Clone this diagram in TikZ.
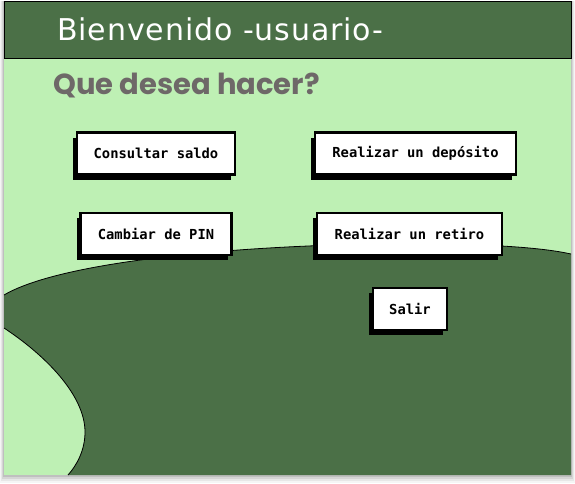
\documentclass[tikz,border=0pt]{standalone}
\usepackage{fontspec}
\usetikzlibrary{shadows,positioning}
\newfontfamily\titlefont{DejaVu Sans}[LetterSpace=3]
\newfontfamily\quefont{Poppins}
\newfontfamily\monofont{DejaVu Sans Mono}
\definecolor{verdeosc}{RGB}{75,112,71}
\definecolor{verdecla}{RGB}{190,240,180}
\definecolor{grisque}{RGB}{110,104,104}

\begin{document}
\begin{tikzpicture}[x=1pt,y=-1pt,
    boton/.style={rectangle,draw=black,line width=2.5pt,fill=white,
		minimum height=42pt,inner sep=0pt,font=\monofont\bfseries\fontsize{13.8}{16}\selectfont,
		drop shadow={shadow xshift=-4pt,shadow yshift=-5pt,fill=black,opacity=1}},
    titulo/.style={anchor=base west,inner sep=0pt,text=white,
		font=\titlefont\fontsize{30}{36}\selectfont},
    pregunta/.style={anchor=base west,inner sep=0pt,text=grisque,
		font=\quefont\bfseries\fontsize{29}{34}\selectfont},
    curva/.style={draw=black,line width=0.8pt}
]
    \useasboundingbox (0,0) rectangle (575,483);
    % sombra del marco
    \foreach \s/\o in {4/0.04,3/0.06,2/0.08,1/0.10}
	\fill[black,opacity=\o] (4-\s,1) rectangle (571+\s,475+2*\s);
    % fondo y encabezado
    \fill[verdecla] (4,58) rectangle (571,475);
    \fill[verdeosc] (4,295) .. controls (60,262) and (230,246) .. (380,244)
	.. controls (480,243) and (540,247) .. (571,254)
	-- (571,475) -- (68,475)
	.. controls (77,465) and (85,450) .. (85,432)
	.. controls (85,395) and (45,355) .. (4,328) -- cycle;
    \draw[curva] (4,295) .. controls (60,262) and (230,246) .. (380,244)
	.. controls (480,243) and (540,247) .. (571,254);
    \draw[curva] (68,475) .. controls (77,465) and (85,450) .. (85,432)
	.. controls (85,395) and (45,355) .. (4,328);
    \draw[fill=verdeosc,line width=0.8pt] (4,1) rectangle (571,58);
    \node (bienvenida) [titulo] at (57,40.3) {Bienvenido -usuario-};
    \node (que) [pregunta] at (53,94) {Que desea hacer?};
    % botones
    \node (saldo) [boton,minimum width=158pt] at (156,153.7) {Consultar saldo};
    \node (deposito) [boton,minimum width=201pt] at (415.5,153.7) {Realizar un depósito};
    \node (pin) [boton,minimum width=151pt] at (156,233.8) {Cambiar de PIN};
    \node (retiro) [boton,minimum width=185pt] at (409.5,233.8) {Realizar un retiro};
    \node (salir) [boton,minimum width=74pt] at (410,309) {Salir};
\end{tikzpicture}
\end{document}
